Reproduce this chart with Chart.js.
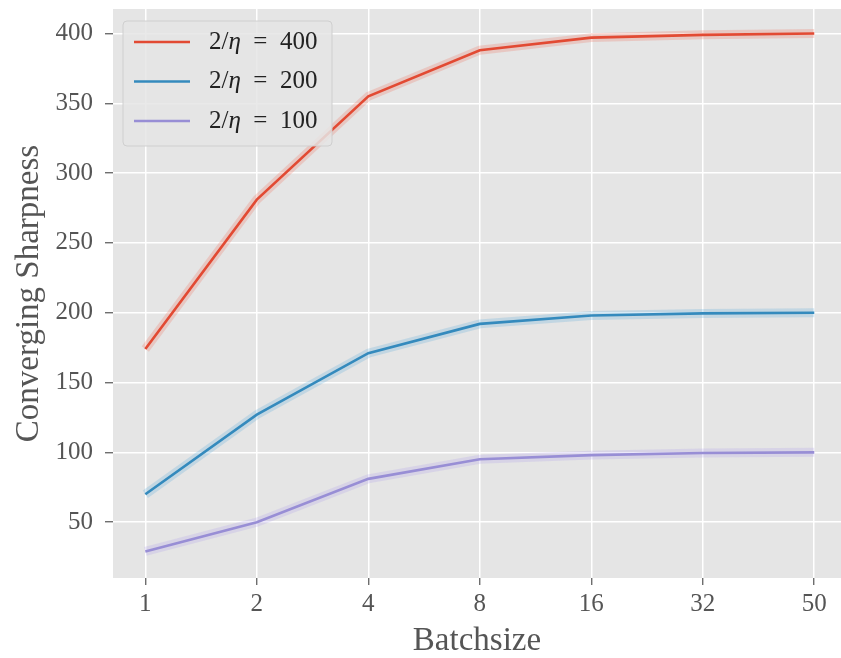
<!DOCTYPE html>
<html>
<head>
<meta charset="utf-8">
<script src="https://cdn.jsdelivr.net/npm/chart.js@4"></script>
<style>
  html, body { margin: 0; padding: 0; background: #fff; }
  #wrap { width: 841px; height: 658px; }
</style>
</head>
<body>
<div id="wrap"><canvas id="chart" width="841" height="658"></canvas></div>
<script>
// Data ----- START
const batchSizes = ['1', '2', '4', '8', '16', '32', '50'];
const sharp400 = [174, 281, 355, 388, 397, 399, 400]; // 2/eta = 400
const sharp200 = [70, 127, 171, 192, 198, 199.5, 200]; // 2/eta = 200
const sharp100 = [29, 50, 81, 95, 98, 99.5, 100];     // 2/eta = 100
const yTicks = [50, 100, 150, 200, 250, 300, 350, 400];
const seriesNames = ['400', '200', '100'];
// Data ----- END

const colors = ['#E24A33', '#348ABD', '#988ED5'];
const bands = ['rgba(240,110,90,0.25)', 'rgba(90,170,220,0.25)', 'rgba(175,160,235,0.25)'];
const serif = "'Liberation Serif', 'DejaVu Serif', serif";

//Turn the category values into {x, y} points on a linear x axis
function toPoints(values) {
    return values.map((v, i) => ({ x: i, y: v }));
}

const allSeries = [sharp400, sharp200, sharp100];
const datasets = [];
allSeries.forEach((values, i) => {
    //main line
    datasets.push({
        label: '2/\u03B7 = ' + seriesNames[i],
        data: toPoints(values),
        borderColor: colors[i],
        borderWidth: 2.6,
        pointRadius: 0,
        tension: 0,
        order: 0,
        isMain: true
    });
    //soft band behind the line
    datasets.push({
        label: 'band' + i,
        data: toPoints(values),
        borderColor: bands[i],
        borderWidth: 9,
        pointRadius: 0,
        tension: 0,
        order: 1,
        isMain: false
    });
});

//Grey plot background like ggplot style
const plotBackground = {
    id: 'plotBackground',
    beforeDraw(chart) {
        const { ctx, chartArea: a } = chart;
        ctx.save();
        ctx.fillStyle = '#E5E5E5';
        ctx.fillRect(a.left, a.top, a.right - a.left, a.bottom - a.top);
        ctx.restore();
    }
};

//Legend drawn inside the plot, upper left
const insideLegend = {
    id: 'insideLegend',
    afterDatasetsDraw(chart) {
        const ctx = chart.ctx;
        const mains = chart.data.datasets.filter(d => d.isMain);
        const bx = 123, by = 21, bw = 209, bh = 125;
        ctx.save();
        ctx.beginPath();
        ctx.roundRect(bx, by, bw, bh, 4);
        ctx.fillStyle = 'rgba(229,229,229,0.85)';
        ctx.fill();
        ctx.strokeStyle = 'rgba(204,204,204,0.9)';
        ctx.lineWidth = 1;
        ctx.stroke();
        mains.forEach((d, i) => {
            const y = 42 + i * 39.5;
            ctx.beginPath();
            ctx.moveTo(134, y);
            ctx.lineTo(190, y);
            ctx.strokeStyle = d.borderColor;
            ctx.lineWidth = 2.6;
            ctx.stroke();
            //text: "2/" + italic eta + " = N"
            ctx.fillStyle = '#222';
            ctx.textBaseline = 'middle';
            let x = 209;
            ctx.font = '25px ' + serif;
            ctx.fillText('2/', x, y);
            x += ctx.measureText('2/').width;
            ctx.font = 'italic 25px ' + serif;
            ctx.fillText('\u03B7', x, y);
            x += ctx.measureText('\u03B7').width;
            ctx.font = '25px ' + serif;
            ctx.fillText('\u2002=\u2002' + seriesNames[i], x, y);
        });
        ctx.restore();
    }
};

const chart = new Chart(document.getElementById('chart'), {
    type: 'line',
    data: { datasets: datasets },
    options: {
        responsive: false,
        animation: false,
        layout: { padding: { top: 9, right: 0, left: 0, bottom: 0 } },
        plugins: {
            legend: { display: false },
            tooltip: { enabled: false }
        },
        scales: {
            x: {
                type: 'linear',
                min: -0.29,
                max: 6.24,
                afterBuildTicks(scale) {
                    scale.ticks = batchSizes.map((b, i) => ({ value: i }));
                },
                afterFit(scale) {
                    scale.height = 80;
                    scale.paddingLeft = 0;
                    scale.paddingRight = 0;
                },
                ticks: {
                    callback: (v) => batchSizes[v],
                    font: { family: serif, size: 25 },
                    color: '#555',
                    padding: 4,
                    maxRotation: 0
                },
                grid: { color: '#fff', lineWidth: 1.5, tickColor: '#555', tickLength: 7, tickWidth: 1.2 },
                border: { display: false },
                title: {
                    display: true,
                    text: 'Batchsize',
                    font: { family: serif, size: 33, lineHeight: 1 },
                    color: '#555',
                    padding: { top: 0, bottom: 0 }
                }
            },
            y: {
                min: 10,
                max: 417.5,
                afterBuildTicks(scale) {
                    scale.ticks = yTicks.map(v => ({ value: v }));
                },
                afterFit(scale) {
                    scale.width = 113;
                    scale.paddingTop = 0;
                    scale.paddingBottom = 0;
                },
                ticks: {
                    font: { family: serif, size: 25 },
                    color: '#555',
                    padding: 12
                },
                grid: { color: '#fff', lineWidth: 1.5, tickColor: '#555', tickLength: 8, tickWidth: 1.2 },
                border: { display: false },
                title: {
                    display: true,
                    text: 'Converging Sharpness',
                    font: { family: serif, size: 33, lineHeight: 1 },
                    color: '#555',
                    padding: { top: 13, bottom: 0 }
                }
            }
        }
    },
    plugins: [plotBackground, insideLegend]
});
</script>
</body>
</html>
